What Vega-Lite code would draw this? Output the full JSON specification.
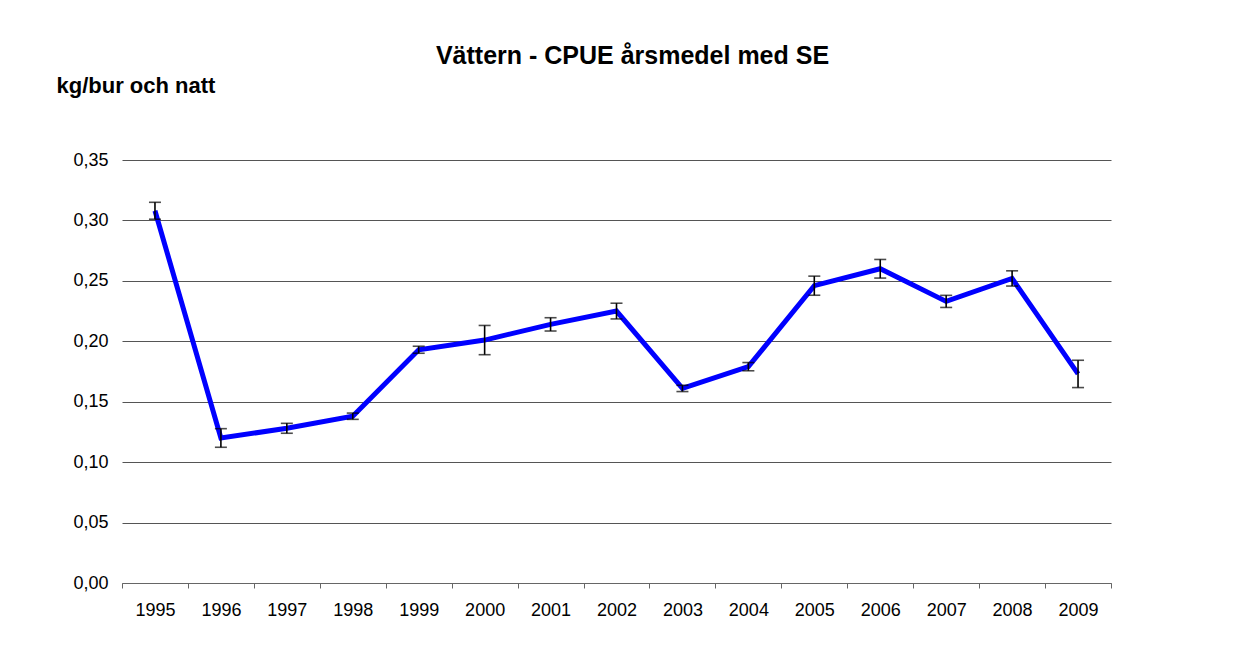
{
  "$schema": "https://vega.github.io/schema/vega-lite/v6.json",
  "autosize": "none",
  "width": 989,
  "height": 423,
  "padding": {"left": 122, "top": 160, "right": 132, "bottom": 65},
  "background": "white",
  "config": {
    "font": "Liberation Sans",
    "view": {"stroke": null}
  },
  "title": {
    "text": "Vättern - CPUE årsmedel med SE",
    "font": "Liberation Sans",
    "fontSize": 25,
    "fontWeight": "bold",
    "color": "black",
    "anchor": "middle",
    "frame": "group",
    "dx": 16,
    "dy": 35,
    "baseline": "alphabetic",
    "offset": 20
  },
  "data": {
    "values": [
      {"year": "1995", "v": 0.308, "se": 0.0070},
      {"year": "1996", "v": 0.120, "se": 0.0077},
      {"year": "1997", "v": 0.128, "se": 0.0041},
      {"year": "1998", "v": 0.138, "se": 0.0026},
      {"year": "1999", "v": 0.193, "se": 0.0029},
      {"year": "2000", "v": 0.201, "se": 0.0121},
      {"year": "2001", "v": 0.214, "se": 0.0055},
      {"year": "2002", "v": 0.225, "se": 0.0065},
      {"year": "2003", "v": 0.161, "se": 0.0026},
      {"year": "2004", "v": 0.179, "se": 0.0034},
      {"year": "2005", "v": 0.246, "se": 0.0079},
      {"year": "2006", "v": 0.260, "se": 0.0077},
      {"year": "2007", "v": 0.233, "se": 0.0050},
      {"year": "2008", "v": 0.252, "se": 0.0063},
      {"year": "2009", "v": 0.173, "se": 0.0113}
    ]
  },
  "encoding": {
    "x": {
      "field": "year",
      "type": "ordinal",
      "scale": {"paddingInner": 0, "paddingOuter": 0},
      "axis": {
        "title": null,
        "labelAngle": 0,
        "labelFont": "Liberation Sans",
        "labelFontSize": 18,
        "labelColor": "black",
        "labelBaseline": "alphabetic",
        "labelPadding": 27,
        "tickBand": "extent",
        "tickSize": 5,
        "tickColor": "#666",
        "domainColor": "#666",
        "grid": false
      }
    }
  },
  "layer": [
    {
      "mark": {"type": "line", "color": "#0000FF", "strokeWidth": 5},
      "encoding": {
        "y": {
          "field": "v",
          "type": "quantitative",
          "scale": {"domain": [0, 0.35], "nice": false},
          "axis": {
            "values": [0, 0.05, 0.1, 0.15, 0.2, 0.25, 0.3, 0.35],
            "format": ".2f",
            "formatType": "number",
            "labelExpr": "replace(datum.label, '.', ',')",
            "domain": false,
            "ticks": false,
            "grid": true,
            "gridColor": "#555",
            "gridWidth": 1,
            "labelFont": "Liberation Sans",
            "labelFontSize": 18,
            "labelColor": "black",
            "labelPadding": 14,
            "title": "kg/bur och natt",
            "titleFont": "Liberation Sans",
            "titleFontSize": 22,
            "titleFontWeight": "bold",
            "titleColor": "black",
            "titleAngle": 0,
            "titleAlign": "left",
            "titleBaseline": "alphabetic",
            "titleX": -66,
            "titleY": -68
          }
        }
      }
    },
    {
      "mark": {"type": "errorbar", "ticks": {"size": 12, "color": "black", "thickness": 1.6}, "color": "black", "thickness": 1.6},
      "encoding": {
        "y": {"field": "v", "type": "quantitative", "title": "kg/bur och natt"},
        "yError": {"field": "se"}
      }
    }
  ]
}
